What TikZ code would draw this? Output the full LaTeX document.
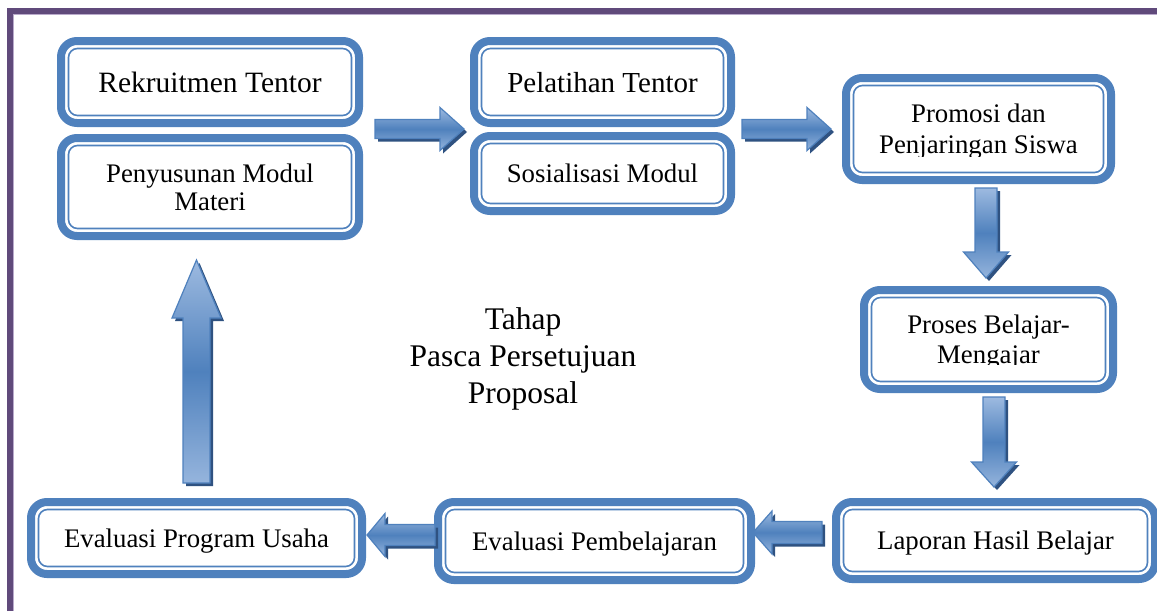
\documentclass[tikz,border=0pt]{standalone}
\usepackage{fontspec}
\setmainfont{Liberation Serif}
\usetikzlibrary{calc}
\definecolor{boxblue}{HTML}{4F81BD}
\definecolor{arrowlight}{HTML}{9DBAE0}
\definecolor{arrowshade}{HTML}{2F5281}
\definecolor{framepurple}{HTML}{604A7B}
\definecolor{framelight}{HTML}{B9AACB}
\tikzset{
  stepbox/.style={draw=boxblue, line width=8pt, rounded corners=16pt, fill=white,
    inner sep=0pt, align=center, text depth=0pt, font=\fontsize{26.8pt}{29pt}\selectfont,
    path picture={\draw[boxblue, line width=1.6pt, rounded corners=9pt]
      ([shift={(7.5pt,-7.5pt)}]path picture bounding box.north west) rectangle
      ([shift={(-7.5pt,7.5pt)}]path picture bounding box.south east);}},
  arrowbody/.style={top color=arrowlight, bottom color=arrowlight!90!boxblue, middle color=boxblue,
    draw=boxblue, line width=1.2pt},
  arrowshadow/.style={fill=arrowshade, transform canvas={shift={(3pt,-3pt)}}}
}
% shaft half, head half, head length, tail, tip
\newcommand{\blockarrow}[5]{%
  \coordinate (hb) at ($(#5)!#3!(#4)$);
  \fill[arrowshadow] ($(#4)!#1!90:(#5)$) -- ($(hb)!#1!90:(#5)$) -- ($(hb)!#2!90:(#5)$) -- (#5)
    -- ($(hb)!#2!-90:(#5)$) -- ($(hb)!#1!-90:(#5)$) -- ($(#4)!#1!-90:(#5)$) -- cycle;
  \shade[arrowbody] ($(#4)!#1!90:(#5)$) -- ($(hb)!#1!90:(#5)$) -- ($(hb)!#2!90:(#5)$) -- (#5)
    -- ($(hb)!#2!-90:(#5)$) -- ($(hb)!#1!-90:(#5)$) -- ($(#4)!#1!-90:(#5)$) -- cycle;
}
\begin{document}
\begin{tikzpicture}[x=1pt,y=-1pt]
  \fill[white] (0,0) rectangle (1157,611);
  \useasboundingbox (0,0) rectangle (1157,611);
  % frame
  \draw[framepurple, line width=6pt] (9.7,611) -- (9.7,11.2) -- (1157,11.2);
  \draw[framelight, line width=1.2pt] (13.3,611) -- (13.3,14.8) -- (1157,14.8);
  % boxes
  \node[stepbox, minimum width=298, minimum height=82, font=\fontsize{29.5pt}{30pt}\selectfont] (rekrut) at (210,82) {Rekruitmen Tentor};
  \node[stepbox, minimum width=298, minimum height=98, font=\fontsize{26.8pt}{28pt}\selectfont] (modul) at (210,187) {Penyusunan Modul\\Materi};
  \node[stepbox, minimum width=257, minimum height=82, font=\fontsize{29pt}{30pt}\selectfont] (latih) at (602.5,82) {Pelatihan Tentor};
  \node[stepbox, minimum width=257, minimum height=75] (sosial) at (602.5,173.5) {Sosialisasi Modul};
  \node[stepbox, minimum width=265, minimum height=102, font=\fontsize{26.8pt}{31pt}\selectfont] (promosi) at (978.5,129) {Promosi dan\\Penjaringan Siswa};
  \node[stepbox, minimum width=249, minimum height=99, font=\fontsize{26.8pt}{30pt}\selectfont] (proses) at (988.5,339.5) {Proses Belajar-\\Mengajar};
  \node[stepbox, minimum width=319, minimum height=77] (laporan) at (995.5,540.5) {Laporan Hasil Belajar};
  \node[stepbox, minimum width=313, minimum height=78] (evalbel) at (594.5,541) {Evaluasi Pembelajaran};
  \node[stepbox, minimum width=331, minimum height=72] (evalprog) at (196.5,538) {Evaluasi Program Usaha};
  % cut-off lines of text
  \fill[white] ($(promosi.center)+(-110,27.5)$) rectangle ($(promosi.center)+(110,40)$);
  \fill[white] ($(proses.center)+(-100,25.5)$) rectangle ($(proses.center)+(100,38)$);
  \node[align=center, font=\fontsize{31.5pt}{37pt}\selectfont] (tahap) at (523,358.7) {Tahap\\Pasca Persetujuan\\Proposal};
  % arrows
  \coordinate (r1t) at ($(rekrut.south east)!.5!(modul.north east)+(12,-1.5)$);
  \coordinate (r1h) at ($(latih.west |- r1t)+(-6,0)$);
  \blockarrow{9.5pt}{21.5pt}{24pt}{r1t}{r1h}
  \coordinate (r2h) at ($(promosi.west)+(-11,0)$);
  \coordinate (r2t) at ($(latih.east |- r2h)+(7,0)$);
  \blockarrow{9.5pt}{21.5pt}{24pt}{r2t}{r2h}
  \coordinate (d1h) at ($(proses.north)+(-2.5,-8)$);
  \coordinate (d1t) at ($(d1h |- promosi.south)+(0,4)$);
  \blockarrow{11pt}{22.5pt}{26pt}{d1t}{d1h}
  \coordinate (d2h) at ($(laporan.north)+(-1.5,-11)$);
  \coordinate (d2t) at ($(d2h |- proses.south)+(0,4)$);
  \blockarrow{11pt}{22.5pt}{25pt}{d2t}{d2h}
  \coordinate (l1t) at ($(laporan.west)+(-10,-8)$);
  \coordinate (l1h) at ($(evalbel.east |- l1t)+(-2,0)$);
  \blockarrow{11pt}{21.5pt}{19pt}{l1t}{l1h}
  \coordinate (l2t) at ($(evalbel.west)+(1,-6)$);
  \coordinate (l2h) at ($(evalprog.east |- l2t)+(1,0)$);
  \blockarrow{10.5pt}{21.5pt}{18pt}{l2t}{l2h}
  \coordinate (u1t) at ($(evalprog.north)+(0,-15)$);
  \coordinate (u1h) at ($(u1t |- modul.south)+(0,20)$);
  \blockarrow{13.5pt}{24.5pt}{58pt}{u1t}{u1h}
\end{tikzpicture}
\end{document}
